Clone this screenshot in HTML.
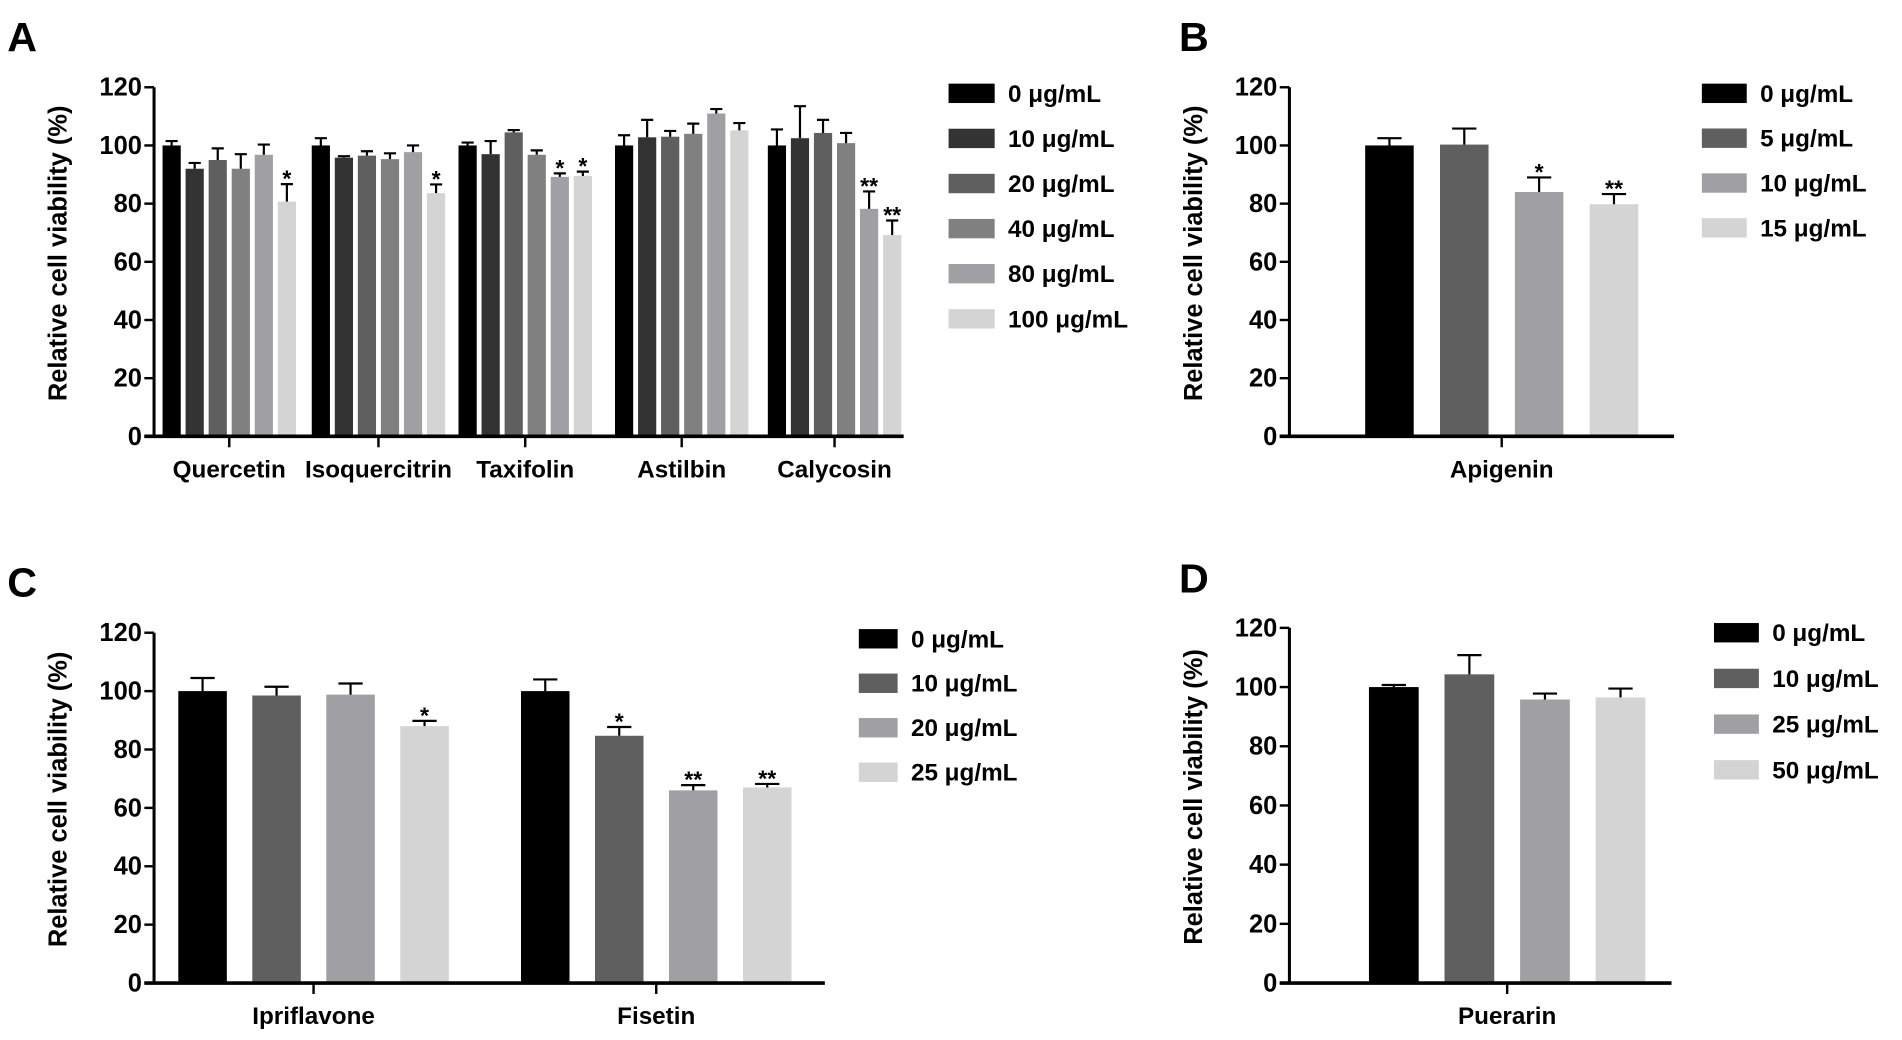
<!DOCTYPE html>
<html><head><meta charset="utf-8"><style>
html,body{margin:0;padding:0;background:#fff;}
svg{display:block;}
text{font-family:"Liberation Sans Narrow","Liberation Sans",sans-serif;font-weight:bold;fill:#000;}
.yt{font-family:"Liberation Sans",sans-serif;}
</style></head><body>
<svg id="fig" width="1902" height="1040" viewBox="0 0 1568 858" preserveAspectRatio="none" xmlns="http://www.w3.org/2000/svg"></svg>
<script>
const yTicks=[0,20,40,60,80,100,120];
// Panel A
const aCats=["Quercetin","Isoquercitrin","Taxifolin","Astilbin","Calycosin"];
const aSeries=["0 μg/mL","10 μg/mL","20 μg/mL","40 μg/mL","80 μg/mL","100 μg/mL"];
const aVals=[[100,92,95,92,96.8,80.7],[100,95.8,96.5,95.3,97.7,83.6],[100,97,104.5,96.8,89.2,89.5],[100,102.8,103,104,111,105.2],[100,102.5,104.3,100.8,78.2,69.2]];
const aErr=[[1.5,2,4,5,3.5,6],[2.5,0.5,1.5,2,2.3,3],[1,4.5,0.8,1.5,1.2,1.5],[3.5,6,2,3.5,1.5,2.5],[5.5,11,4.5,3.5,6,5]];
const aSig=[["","","","","","*"],["","","","","","*"],["","","","","*","*"],["","","","","",""],["","","","","**","**"]];
// Panel B
const bCats=["Apigenin"];
const bSeries=["0 μg/mL","5 μg/mL","10 μg/mL","15 μg/mL"];
const bVals=[[100,100.3,84,79.8]];
const bErr=[[2.5,5.5,5,3.5]];
const bSig=[["","","*","**"]];
// Panel C
const cCats=["Ipriflavone","Fisetin"];
const cSeries=["0 μg/mL","10 μg/mL","20 μg/mL","25 μg/mL"];
const cVals=[[100,98.5,98.8,88],[100,84.7,66,67]];
const cErr=[[4.5,3,3.8,1.8],[4,3,1.8,1.2]];
const cSig=[["","","","*"],["","*","**","**"]];
// Panel D
const dCats=["Puerarin"];
const dSeries=["0 μg/mL","10 μg/mL","25 μg/mL","50 μg/mL"];
const dVals=[[100,104.3,95.8,96.5]];
const dErr=[[0.7,6.5,2,3]];
const dSig=[["","","",""]];

const C6=["#000000","#333333","#5f5f5f","#808080","#a0a0a4","#d4d4d4"];
const C4=["#000000","#5f5f5f","#a0a0a4","#d4d4d4"];
const NS="http://www.w3.org/2000/svg";
const svg=document.getElementById('fig');
function mk(tag,attrs,parent,txt){const e=document.createElementNS(NS,tag);for(const k in attrs)e.setAttribute(k,attrs[k]);if(txt!==undefined)e.textContent=txt;(parent||svg).appendChild(e);return e;}

function panel(p){
  const g=mk('g',{});
  
  
  const lab=mk('text',{x:p.letterX,y:p.letterY,'font-size':34,'font-family':'Liberation Sans'},g,p.id.toUpperCase());
  
  
  const y=v=>p.y0-(v/120)*(p.y0-p.y120);
  p.cats.forEach((cat,ci)=>{
    const c=p.centers[ci];
    const n=p.vals[ci].length;
    const start=c-(n*p.step-(p.step-p.bw))/2;
    p.vals[ci].forEach((v,si)=>{
      const x=start+si*p.step;
      const r=mk('rect',{x:x,y:y(v),width:p.bw,height:p.y0-y(v),fill:p.colors[si]},g);
      
      
      const e=p.err[ci][si];const cx=x+p.bw/2;
      const eb=mk('path',{d:`M${cx},${y(v)}V${y(v+e)}M${cx-p.cap},${y(v+e)}H${cx+p.cap}`,stroke:'#000','stroke-width':1.8,fill:'none'},g);
      
      
      const s=p.sig[ci][si];
      if(s){const t=mk('text',{x:cx,y:y(v+e)+2,'text-anchor':'middle','font-size':19},g,s);
        
        }
    });
    const tk=mk('line',{x1:c,x2:c,y1:p.y0,y2:p.y0+9,stroke:'#000','stroke-width':2},g);
    
    
    const tl=mk('text',{x:c,y:p.y0+34,'text-anchor':'middle','font-size':20},g,cat);
    
    
  });
  const ax=mk('line',{x1:p.ax,x2:p.ax,y1:p.y120,y2:p.y0+1,stroke:'#000','stroke-width':2.5},g);
  
  
  const xa=mk('line',{x1:p.ax-8,x2:p.xEnd,y1:p.y0,y2:p.y0,stroke:'#000','stroke-width':3},g);
  
  
  yTicks.forEach(t=>{
    const l=mk('line',{x1:p.ax-8,x2:p.ax,y1:y(t),y2:y(t),stroke:'#000','stroke-width':2},g);
    
    
    const tt=mk('text',{x:p.ax-10,y:y(t)+7,'text-anchor':'end','font-size':21},g,String(t));
    
    
  });
  const ym=(p.y0+p.y120)/2;
  const yl=mk('text',{class:'yt',x:p.ax-65,y:ym,'text-anchor':'middle','font-size':21,transform:`rotate(-90 ${p.ax-72} ${ym})`},g,'Relative cell viability (%)');
  
  
  p.series.forEach((s,i)=>{
    const ly=p.legY+i*p.legStep;
    const r=mk('rect',{x:p.legX,y:ly-8,width:p.legW,height:16,fill:p.colors[i]},g);
    
    
    const t=mk('text',{x:p.legX+p.legW+11,y:ly+7,'font-size':20},g,s);
    
    
  });
}
panel({id:'a',letterX:6,letterY:42,cats:aCats,series:aSeries,vals:aVals,err:aErr,sig:aSig,colors:C6,
  centers:[189,312,433,562,688],bw:15,step:19,cap:5,ax:127,y0:360,y120:72,xEnd:745,legX:782,legY:77,legStep:37.2,legW:38});
panel({id:'b',letterX:972,letterY:42,cats:bCats,series:bSeries,vals:bVals,err:bErr,sig:bSig,colors:C4,
  centers:[1238],bw:40,step:61.7,cap:10,ax:1063,y0:360,y120:72,xEnd:1380,legX:1403,legY:77,legStep:37,legW:37});
panel({id:'c',letterX:6,letterY:492,cats:cCats,series:cSeries,vals:cVals,err:cErr,sig:cSig,colors:C4,
  centers:[258.5,541],bw:40,step:61,cap:10,ax:127,y0:811,y120:522,xEnd:680,legX:708,legY:527,legStep:36.7,legW:32});
panel({id:'d',letterX:972,letterY:489,cats:dCats,series:dSeries,vals:dVals,err:dErr,sig:dSig,colors:C4,
  centers:[1242.5],bw:41,step:62.3,cap:10,ax:1063,y0:811,y120:518,xEnd:1378,legX:1413,legY:522,legStep:37.7,legW:37});
</script>
</body></html>
